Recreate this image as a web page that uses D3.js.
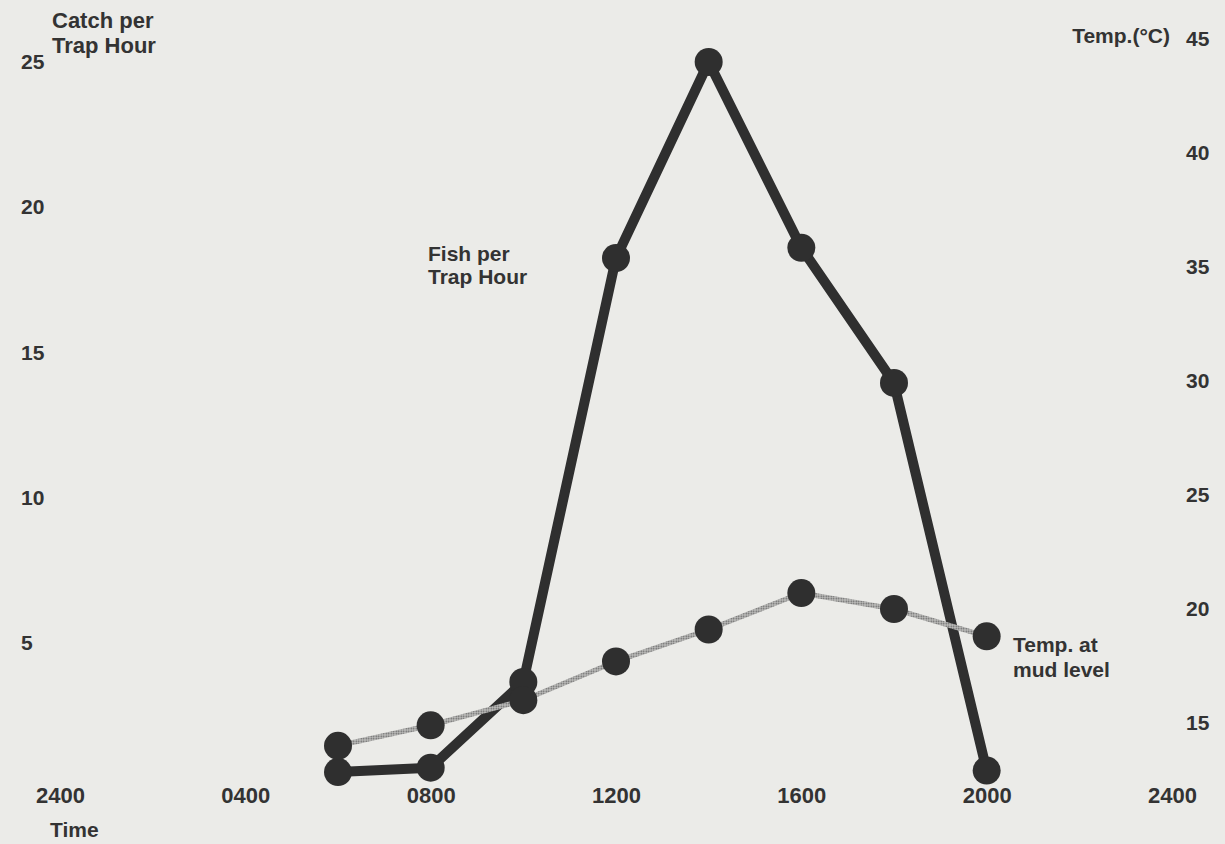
<!DOCTYPE html>
<html>
<head>
<meta charset="utf-8">
<script src="https://cdn.jsdelivr.net/npm/d3@7"></script>
<style>
  html, body { margin: 0; padding: 0; background: #ebebe8; }
  svg { display: block; }
  text { font-family: "Liberation Sans", Arial, Helvetica, sans-serif; font-weight: bold; fill: #333; }
</style>
</head>
<body>
<svg id="chart" width="1225" height="844"></svg>
<script>
// Sampling times (hours after midnight)
const hours = [6, 8, 10, 12, 14, 16, 18, 20];
// Fish caught per trap hour
const catchPerTrapHour = [0.55, 0.7, 3.65, 18.25, 25, 18.6, 13.95, 0.6];
// Water temperature at mud level (°C)
const mudTemp = [14.0, 14.9, 16.0, 17.7, 19.1, 20.7, 20.0, 18.8];

// Axis ticks
const timeTicks = [0, 4, 8, 12, 16, 20, 24];
const timeLabels = ["2400", "0400", "0800", "1200", "1600", "2000", "2400"];
const catchTicks = [5, 10, 15, 20, 25];
const tempTicks = [15, 20, 25, 30, 35, 40, 45];

const W = 1225, H = 844;
const svg = d3.select("#chart");

svg.append("rect").attr("width", W).attr("height", H).attr("fill", "#ebebe8");

// Halftone screen used for the temperature line
const defs = svg.append("defs");
const pat = defs.append("pattern")
  .attr("id", "screen")
  .attr("patternUnits", "userSpaceOnUse")
  .attr("width", 2.5).attr("height", 2.5);
pat.append("rect").attr("width", 2.5).attr("height", 2.5).attr("fill", "#c0c0be");
pat.append("circle").attr("cx", 1.25).attr("cy", 1.25).attr("r", 0.8).attr("fill", "#606060");

const x = d3.scaleLinear().domain([0, 24]).range([60, 1172]);
const yCatch = d3.scaleLinear().domain([0, 25]).range([788, 62]);
const yTemp = d3.scaleLinear().domain([15, 45]).range([723, 39]);

// Time axis
const xAxis = svg.append("g")
  .attr("transform", "translate(0,803)")
  .call(d3.axisBottom(x).tickValues(timeTicks).tickFormat((d, i) => timeLabels[i]).tickSize(0));
xAxis.select(".domain").remove();
xAxis.selectAll("text")
  .attr("y", 0).attr("dy", null)
  .style("font-size", "22px")
  .attr("fill", null);

// Catch axis (left)
const yAxisL = svg.append("g")
  .attr("transform", "translate(21,0)")
  .call(d3.axisLeft(yCatch).tickValues(catchTicks).tickSize(0).tickPadding(0));
yAxisL.select(".domain").remove();
yAxisL.selectAll("text")
  .attr("text-anchor", "start")
  .style("font-size", "21px")
  .attr("fill", null);

// Temperature axis (right)
const yAxisR = svg.append("g")
  .attr("transform", "translate(1186,0)")
  .call(d3.axisRight(yTemp).tickValues(tempTicks).tickSize(0).tickPadding(0));
yAxisR.select(".domain").remove();
yAxisR.selectAll("text").style("font-size", "21px").attr("fill", null);

// Axis titles
function multiline(xp, yp, lines, step, size, anchor) {
  const t = svg.append("text")
    .attr("x", xp).attr("y", yp)
    .attr("text-anchor", anchor || "start")
    .style("font-size", size + "px");
  lines.forEach((s, i) => {
    t.append("tspan").attr("x", xp).attr("dy", i === 0 ? 0 : step).text(s);
  });
  return t;
}
multiline(52, 28, ["Catch per", "Trap Hour"], 25, 22);
multiline(1170, 43, ["Temp.(°C)"], 0, 21, "end");
svg.append("text").attr("x", 50).attr("y", 837).style("font-size", "21px").text("Time");

// Series
const ink = "#2f2f2f";
const catchLine = d3.line().x((d, i) => x(hours[i])).y(d => yCatch(d));
const tempLine = d3.line().x((d, i) => x(hours[i])).y(d => yTemp(d));

svg.append("path")
  .datum(catchPerTrapHour)
  .attr("d", catchLine)
  .attr("fill", "none")
  .attr("stroke", ink)
  .attr("stroke-width", 10)
  .attr("stroke-linejoin", "round");

svg.append("path")
  .datum(mudTemp)
  .attr("d", tempLine)
  .attr("fill", "none")
  .attr("stroke", "url(#screen)")
  .attr("stroke-width", 5);

svg.append("g").selectAll("circle")
  .data(catchPerTrapHour)
  .join("circle")
  .attr("cx", (d, i) => x(hours[i]))
  .attr("cy", d => yCatch(d))
  .attr("r", 14)
  .attr("fill", ink);

svg.append("g").selectAll("circle")
  .data(mudTemp)
  .join("circle")
  .attr("cx", (d, i) => x(hours[i]))
  .attr("cy", d => yTemp(d))
  .attr("r", 14)
  .attr("fill", ink);

// Series labels
multiline(428, 261, ["Fish per", "Trap Hour"], 23, 21);
multiline(1013, 652, ["Temp. at", "mud level"], 25, 21);
</script>
</body>
</html>
